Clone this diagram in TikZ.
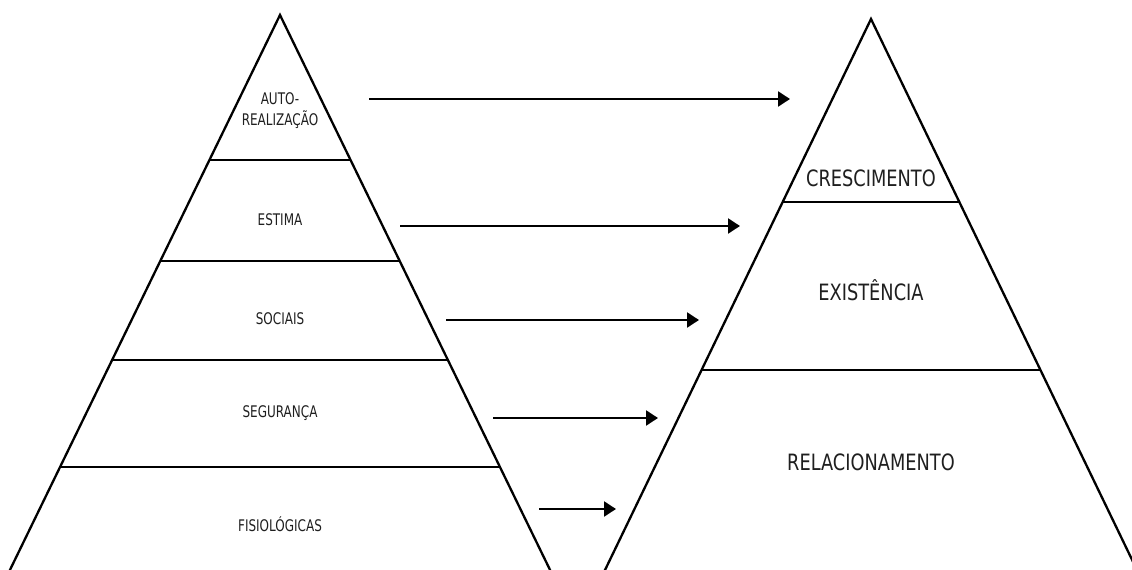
\documentclass[tikz,border=0pt]{standalone}
\usepackage{fontspec}
\setmainfont[FakeStretch=0.79]{DejaVu Sans}
\newfontfamily\smallfam[FakeStretch=0.75]{DejaVu Sans}
\usetikzlibrary{arrows.meta}
\begin{document}
\begin{tikzpicture}[x=1pt,y=-1pt,
  edge/.style={line width=2.3pt,line join=miter},
  conn/.style={line width=2.3pt,-{Triangle[length=12pt,width=15pt]}},
  small/.style={font=\smallfam\fontsize{16}{21}\selectfont,align=center,inner sep=0pt,text=black!88},
  big/.style={font=\fontsize{22.5}{27}\selectfont,align=center,inner sep=0pt,text=black!88}]
\useasboundingbox (0,0) rectangle (1132,570);
\clip (0,0) rectangle (1132,570);
% left pyramid
\coordinate (LA) at (280,15);
\coordinate (LBL) at (7.5,575);
\coordinate (LBR) at (552.5,575);
\draw[edge] (LBL) -- (LA) -- (LBR);
\draw[edge] (209.5,160) -- (350.5,160);
\draw[edge] (160.3,261) -- (399.7,261);
\draw[edge] (112.2,360) -- (447.8,360);
\draw[edge] (60.1,467) -- (499.9,467);
% right pyramid
\coordinate (RA) at (871,19);
\coordinate (RBL) at (602.6,575);
\coordinate (RBR) at (1139.4,575);
\draw[edge] (RBL) -- (RA) -- (RBR);
\draw[edge] (782.7,202) -- (959.3,202);
\draw[edge] (701.5,370) -- (1040.5,370);
% left labels
\node[small] (auto) at (280,111) {AUTO-\\REALIZAÇÃO};
\node[small] (estima) at (280,220) {ESTIMA};
\node[small] (sociais) at (280,319) {SOCIAIS};
\node[small] (seg) at (280,413) {SEGURANÇA};
\node[small] (fisio) at (280,524) {FISIOLÓGICAS};
% right labels
\node[big] (cresc) at (871,178) {CRESCIMENTO};
\node[big] (exist) at (871,290) {EXISTÊNCIA};
\node[big] (rel) at (871,462) {RELACIONAMENTO};
% arrows
\coordinate (a1s) at (369,99);  \coordinate (a1e) at (790,99);
\coordinate (a2s) at (400,226); \coordinate (a2e) at (740,226);
\coordinate (a3s) at (446,320); \coordinate (a3e) at (699,320);
\coordinate (a4s) at (493,418); \coordinate (a4e) at (658,418);
\coordinate (a5s) at (539,509); \coordinate (a5e) at (616,509);
\draw[conn] (a1s) -- (a1e);
\draw[conn] (a2s) -- (a2e);
\draw[conn] (a3s) -- (a3e);
\draw[conn] (a4s) -- (a4e);
\draw[conn] (a5s) -- (a5e);
\end{tikzpicture}
\end{document}
